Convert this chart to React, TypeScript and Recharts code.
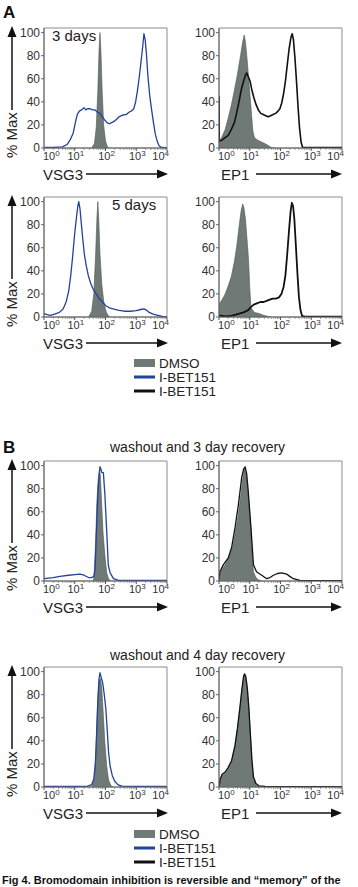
import { ComposedChart, Area, Line, XAxis, YAxis, ReferenceArea } from 'recharts'

// each point: [log10 fluorescence, % of max]
type Pt = [number, number]

const DECADES = [0, 1, 2, 3, 4]
const MINOR_TICKS = DECADES.slice(0, -1).flatMap(d => [2, 3, 4, 5, 6, 7, 8, 9].map(m => d + Math.log10(m)))
const PCT_TICKS = [0, 20, 40, 60, 80, 100]
const Y_MAX = 104

// A: 3 days
const vsg3Day3Dmso: Pt[] = [[1.55, 0], [1.64, 4], [1.7, 18], [1.75, 50], [1.79, 85], [1.82, 100], [1.85, 85], [1.89, 50], [1.94, 20], [2.0, 6], [2.06, 1], [2.12, 0]]
const vsg3Day3Ibet: Pt[] = [[0, 0.5], [0.3, 0.5], [0.6, 1], [0.75, 3], [0.85, 7], [0.95, 13], [1.02, 22], [1.08, 29], [1.15, 32], [1.22, 33], [1.3, 35], [1.36, 33], [1.42, 34], [1.5, 34], [1.58, 33], [1.66, 33], [1.74, 31], [1.82, 30], [1.9, 27], [1.98, 24], [2.05, 22], [2.12, 21], [2.2, 22], [2.28, 23], [2.36, 25], [2.44, 27], [2.52, 28], [2.6, 29], [2.68, 29], [2.76, 31], [2.84, 32], [2.92, 34], [2.98, 40], [3.04, 50], [3.1, 62], [3.16, 76], [3.21, 88], [3.25, 99], [3.29, 94], [3.33, 82], [3.38, 62], [3.44, 45], [3.5, 33], [3.56, 22], [3.62, 12], [3.68, 6], [3.74, 2], [3.82, 0.5], [4, 0.3]]
const ep1Day3Dmso: Pt[] = [[0, 4], [0.1, 10], [0.2, 16], [0.3, 26], [0.4, 37], [0.5, 50], [0.6, 64], [0.7, 80], [0.77, 92], [0.82, 98], [0.86, 92], [0.92, 75], [0.98, 55], [1.04, 35], [1.1, 15], [1.15, 9], [1.25, 7], [1.4, 5], [1.55, 3], [1.7, 0.5], [1.8, 0]]
const ep1Day3Ibet: Pt[] = [[0, 45], [0.01, 6], [0.1, 7], [0.2, 9], [0.3, 11], [0.4, 16], [0.5, 22], [0.57, 30], [0.65, 40], [0.72, 50], [0.79, 57], [0.86, 63], [0.9, 65], [0.95, 62], [1.01, 58], [1.07, 50], [1.13, 44], [1.2, 38], [1.28, 33], [1.36, 30], [1.44, 29], [1.52, 28], [1.6, 27], [1.68, 28], [1.76, 29], [1.84, 30], [1.92, 32], [1.98, 34], [2.04, 39], [2.1, 47], [2.16, 58], [2.22, 72], [2.28, 86], [2.34, 96], [2.38, 99], [2.42, 94], [2.47, 78], [2.52, 58], [2.57, 36], [2.62, 17], [2.67, 5], [2.72, 0.5], [3, 0.3], [4, 0.3]]

// A: 5 days
const vsg3Day5Dmso: Pt[] = [[1.45, 0], [1.55, 5], [1.62, 20], [1.68, 55], [1.72, 85], [1.75, 100], [1.78, 85], [1.82, 55], [1.88, 28], [1.95, 12], [2.03, 4], [2.12, 0]]
const vsg3Day5Ibet: Pt[] = [[0, 3], [0.1, 2], [0.2, 1.5], [0.35, 2.5], [0.5, 4], [0.62, 7], [0.72, 13], [0.8, 22], [0.87, 36], [0.93, 52], [0.99, 70], [1.05, 85], [1.1, 96], [1.13, 100], [1.17, 94], [1.21, 82], [1.26, 68], [1.31, 55], [1.37, 45], [1.44, 36], [1.52, 29], [1.6, 24], [1.7, 20], [1.8, 16], [1.9, 13], [2.0, 10], [2.12, 8], [2.25, 7], [2.4, 6], [2.6, 5], [2.8, 5], [3.0, 5.5], [3.15, 6.5], [3.25, 7], [3.33, 6], [3.42, 4], [3.55, 2.5], [3.7, 1.5], [3.85, 0.5], [4, 0.3]]
const ep1Day5Dmso: Pt[] = [[0, 11], [0.1, 15], [0.2, 20], [0.3, 27], [0.4, 35], [0.5, 48], [0.58, 62], [0.66, 80], [0.72, 92], [0.77, 98], [0.81, 95], [0.86, 85], [0.91, 68], [0.96, 50], [1.0, 25], [1.04, 8], [1.15, 4], [1.3, 3], [1.45, 1.5], [1.6, 0.5], [1.7, 0]]
const ep1Day5Ibet: Pt[] = [[0, 1.5], [0.2, 0.5], [0.4, 1], [0.6, 2.5], [0.8, 4], [0.95, 6], [1.05, 9], [1.15, 11], [1.25, 12], [1.35, 13], [1.45, 13], [1.55, 14], [1.65, 15], [1.75, 16], [1.85, 16], [1.95, 17], [2.03, 20], [2.1, 26], [2.16, 36], [2.22, 55], [2.28, 76], [2.33, 92], [2.37, 99], [2.41, 96], [2.45, 85], [2.5, 62], [2.55, 38], [2.6, 17], [2.65, 6], [2.7, 1], [2.8, 0.3], [4, 0.3]]

// B: washout, 3 day recovery
const vsg3Rec3Dmso: Pt[] = [[1.6, 0], [1.63, 5], [1.68, 35], [1.72, 68], [1.76, 88], [1.8, 96], [1.83, 92], [1.87, 70], [1.92, 42], [1.98, 22], [2.04, 7], [2.1, 2], [2.16, 0]]
const vsg3Rec3Ibet: Pt[] = [[0, 2], [0.3, 3], [0.52, 4], [0.8, 5], [1.0, 5.5], [1.17, 6], [1.3, 5], [1.45, 3], [1.55, 3], [1.62, 4], [1.66, 10], [1.71, 46], [1.75, 75], [1.78, 87], [1.82, 99], [1.85, 97], [1.88, 94], [1.93, 94], [1.98, 75], [2.04, 43], [2.09, 14], [2.15, 7], [2.26, 2], [2.42, 0.5], [4, 0.5]]
const ep1Rec3Dmso: Pt[] = [[0, 5], [0.1, 10], [0.2, 14], [0.33, 21], [0.45, 30], [0.52, 40], [0.62, 56], [0.7, 72], [0.77, 88], [0.82, 97], [0.86, 95], [0.9, 90], [0.96, 72], [1.02, 50], [1.08, 23], [1.12, 8], [1.2, 3], [1.28, 1], [1.4, 0]]
const ep1Rec3Ibet: Pt[] = [[0, 1], [0.03, 8], [0.14, 14], [0.3, 20], [0.41, 29], [0.52, 46], [0.63, 66], [0.74, 90], [0.8, 97], [0.85, 99], [0.9, 93], [0.95, 78], [1.04, 46], [1.12, 14], [1.22, 8], [1.39, 5], [1.55, 2], [1.66, 3], [1.77, 5], [1.9, 6.5], [2.04, 7], [2.2, 6], [2.3, 4], [2.42, 2], [2.63, 0.5], [4, 0.3]]

// B: washout, 4 day recovery
const vsg3Rec4Dmso: Pt[] = [[1.55, 0], [1.63, 6], [1.68, 25], [1.72, 55], [1.76, 80], [1.8, 93], [1.84, 94], [1.88, 85], [1.93, 62], [1.98, 38], [2.04, 18], [2.1, 6], [2.18, 1], [2.25, 0]]
const vsg3Rec4Ibet: Pt[] = [[0, 0.5], [1.4, 0.5], [1.55, 2], [1.62, 7], [1.67, 20], [1.71, 45], [1.75, 75], [1.79, 94], [1.82, 99], [1.86, 95], [1.91, 90], [1.96, 80], [2.01, 68], [2.06, 48], [2.1, 30], [2.15, 18], [2.22, 10], [2.3, 5], [2.4, 2], [2.55, 0.5], [4, 0.5]]
const ep1Rec4Dmso: Pt[] = [[0, 0], [0.04, 6], [0.1, 10], [0.2, 12], [0.3, 16], [0.41, 22], [0.52, 35], [0.6, 50], [0.68, 68], [0.75, 85], [0.8, 95], [0.83, 98], [0.87, 95], [0.92, 85], [0.97, 68], [1.02, 45], [1.07, 22], [1.12, 8], [1.2, 2], [1.3, 0.5], [1.4, 0]]
const ep1Rec4Ibet: Pt[] = [[0, 0], [0.04, 7], [0.1, 11], [0.2, 13], [0.3, 17], [0.41, 23], [0.52, 36], [0.6, 51], [0.68, 69], [0.75, 86], [0.8, 96], [0.83, 98], [0.87, 96], [0.92, 86], [0.97, 69], [1.02, 46], [1.07, 24], [1.12, 9], [1.2, 3], [1.3, 1], [1.5, 0.5], [4, 0.3]]

const GREY = '#6f7975'
const BLUE = '#22439b'
const BLACK = '#111'
const FONT = '"Liberation Sans", Arial, sans-serif'

const PLOT_W = 123
const PLOT_H = 120
const Y_AXIS_W = 30
const TOP_PAD = 2

function buildRows(dmso: Pt[], ibet: Pt[]) {
  const rows: { x: number; dmso?: number; ibet?: number }[] = [
    ...dmso.map(([x, v]) => ({ x, dmso: v })),
    ...ibet.map(([x, v]) => ({ x, ibet: v })),
  ]
  return rows.sort((a, b) => a.x - b.x)
}

function DecadeTick(props: any) {
  const { x, y, payload } = props
  const v = payload.value as number
  if (!DECADES.includes(v)) {
    return <line x1={x} x2={x} y1={y} y2={y + 2} stroke="#777" strokeWidth={0.7} />
  }
  const anchor = v === 0 ? 'start' : v === 4 ? 'end' : 'middle'
  const dx = v === 0 ? -1 : v === 4 ? 2 : 1
  return (
    <g>
      <line x1={x} x2={x} y1={y} y2={y + 3} stroke="#555" />
      <text x={x + dx} y={y + 12} textAnchor={anchor} fontSize={11} fill="#333" fontFamily={FONT}>
        10<tspan dy={-4} fontSize={8}>{v}</tspan>
      </text>
    </g>
  )
}

interface PanelProps {
  left: number
  top: number
  dmso: Pt[]
  ibet: Pt[]
  color: string
  width?: number
}

function Histogram({ left, top, dmso, ibet, color, width = 1.3 }: PanelProps) {
  const rows = buildRows(dmso, ibet)
  return (
    <div style={{ position: 'absolute', left: left - Y_AXIS_W, top: top - TOP_PAD }}>
      <ComposedChart
        width={Y_AXIS_W + PLOT_W + 8}
        height={TOP_PAD + PLOT_H + 20}
        data={rows}
        margin={{ top: TOP_PAD, right: 8, left: 0, bottom: 0 }}
      >
        <XAxis
          type="number"
          dataKey="x"
          domain={[0, 4]}
          ticks={[...DECADES, ...MINOR_TICKS]}
          interval={0}
          allowDataOverflow
          tick={(p: any) => <DecadeTick {...p} />}
          tickLine={false}
          tickSize={0}
          tickMargin={0}
          height={20}
          axisLine={{ stroke: '#666' }}
        />
        <YAxis
          type="number"
          domain={[0, Y_MAX]}
          ticks={PCT_TICKS}
          interval={0}
          allowDataOverflow
          width={Y_AXIS_W}
          tickSize={3}
          tickMargin={1}
          tick={{ fontSize: 12, fill: '#333', fontFamily: FONT }}
          tickLine={{ stroke: '#666' }}
          axisLine={{ stroke: '#666' }}
        />
        <ReferenceArea x1={0} x2={4} y1={0} y2={Y_MAX} fill="none" stroke="#8c8c8c" strokeWidth={1} />
        <Area
          type="linear"
          dataKey="dmso"
          connectNulls
          fill={GREY}
          fillOpacity={1}
          stroke="#4e5652"
          strokeWidth={0.6}
          dot={false}
          activeDot={false}
          isAnimationActive={false}
        />
        <Line
          type="linear"
          dataKey="ibet"
          connectNulls
          stroke={color}
          strokeWidth={width}
          strokeLinejoin="round"
          dot={false}
          activeDot={false}
          isAnimationActive={false}
        />
      </ComposedChart>
    </div>
  )
}

// left column plot boxes start at x=44, right column at x=219
const COL_L = 44
const COL_R = 219
const ROW_TOPS = [28, 197, 461, 667]

function PctMax({ top }: { top: number }) {
  const bottom = top + PLOT_H
  return (
    <g>
      <line x1={12} x2={12} y1={bottom - 38} y2={top + 6} stroke="#111" strokeWidth={1.5} />
      <polygon points={`12,${top - 2} 7.5,${top + 9} 16.5,${top + 9}`} fill="#111" />
      <text x={17} y={bottom + 10} transform={`rotate(-90 17 ${bottom + 10})`} fontSize={15} fill="#222">
        % Max
      </text>
    </g>
  )
}

function AxisName({ top, x, label, x1, x2 }: { top: number; x: number; label: string; x1: number; x2: number }) {
  const y = top + PLOT_H + 26
  return (
    <g>
      <text x={x} y={y + 5.5} fontSize={15} fill="#222">{label}</text>
      <line x1={x1} x2={x2 - 9} y1={y} y2={y} stroke="#111" strokeWidth={1.5} />
      <polygon points={`${x2},${y} ${x2 - 11},${y - 4.5} ${x2 - 11},${y + 4.5}`} fill="#111" />
    </g>
  )
}

function Legend({ y }: { y: number }) {
  return (
    <g fontSize={13.5} fill="#222">
      <rect x={134} y={y - 4} width={21} height={8} fill={GREY} />
      <text x={159} y={y + 5}>DMSO</text>
      <line x1={134} x2={155} y1={y + 14} y2={y + 14} stroke={BLUE} strokeWidth={3} />
      <text x={159} y={y + 19}>I-BET151</text>
      <line x1={134} x2={155} y1={y + 28} y2={y + 28} stroke={BLACK} strokeWidth={3} />
      <text x={159} y={y + 33}>I-BET151</text>
    </g>
  )
}

export default function App() {
  return (
    <div style={{ position: 'absolute', left: 0, top: 0, width: 358, height: 887, background: '#fff', overflow: 'hidden', fontFamily: FONT }}>
      <Histogram left={COL_L} top={ROW_TOPS[0]} dmso={vsg3Day3Dmso} ibet={vsg3Day3Ibet} color={BLUE} />
      <Histogram left={COL_R} top={ROW_TOPS[0]} dmso={ep1Day3Dmso} ibet={ep1Day3Ibet} color={BLACK} width={1.6} />
      <Histogram left={COL_L} top={ROW_TOPS[1]} dmso={vsg3Day5Dmso} ibet={vsg3Day5Ibet} color={BLUE} />
      <Histogram left={COL_R} top={ROW_TOPS[1]} dmso={ep1Day5Dmso} ibet={ep1Day5Ibet} color={BLACK} width={1.8} />
      <Histogram left={COL_L} top={ROW_TOPS[2]} dmso={vsg3Rec3Dmso} ibet={vsg3Rec3Ibet} color={BLUE} />
      <Histogram left={COL_R} top={ROW_TOPS[2]} dmso={ep1Rec3Dmso} ibet={ep1Rec3Ibet} color={BLACK} />
      <Histogram left={COL_L} top={ROW_TOPS[3]} dmso={vsg3Rec4Dmso} ibet={vsg3Rec4Ibet} color={BLUE} />
      <Histogram left={COL_R} top={ROW_TOPS[3]} dmso={ep1Rec4Dmso} ibet={ep1Rec4Ibet} color={BLACK} />

      <svg width={358} height={887} style={{ position: 'absolute', left: 0, top: 0, pointerEvents: 'none' }} fontFamily={FONT}>
        <text x={3} y={18} fontSize={17} fontWeight="bold" fill="#111">A</text>
        <text x={3} y={453} fontSize={17} fontWeight="bold" fill="#111">B</text>
        <text x={52} y={41} fontSize={15} fill="#222">3 days</text>
        <text x={112} y={210} fontSize={15} fill="#222">5 days</text>
        <text x={110} y={452} fontSize={14} fill="#222">washout and 3 day recovery</text>
        <text x={110} y={660} fontSize={14} fill="#222">washout and 4 day recovery</text>
        {ROW_TOPS.map(t => (
          <g key={t}>
            <PctMax top={t} />
            <AxisName top={t} x={43} label="VSG3" x1={86} x2={168} />
            <AxisName top={t} x={221} label="EP1" x1={256} x2={342} />
          </g>
        ))}
        <Legend y={363} />
        <Legend y={834} />
      </svg>

      <div style={{ position: 'absolute', left: 2, top: 874, whiteSpace: 'nowrap', fontSize: 11, fontWeight: 'bold', color: '#111' }}>
        Fig 4. Bromodomain inhibition is reversible and “memory” of the
      </div>
    </div>
  )
}
